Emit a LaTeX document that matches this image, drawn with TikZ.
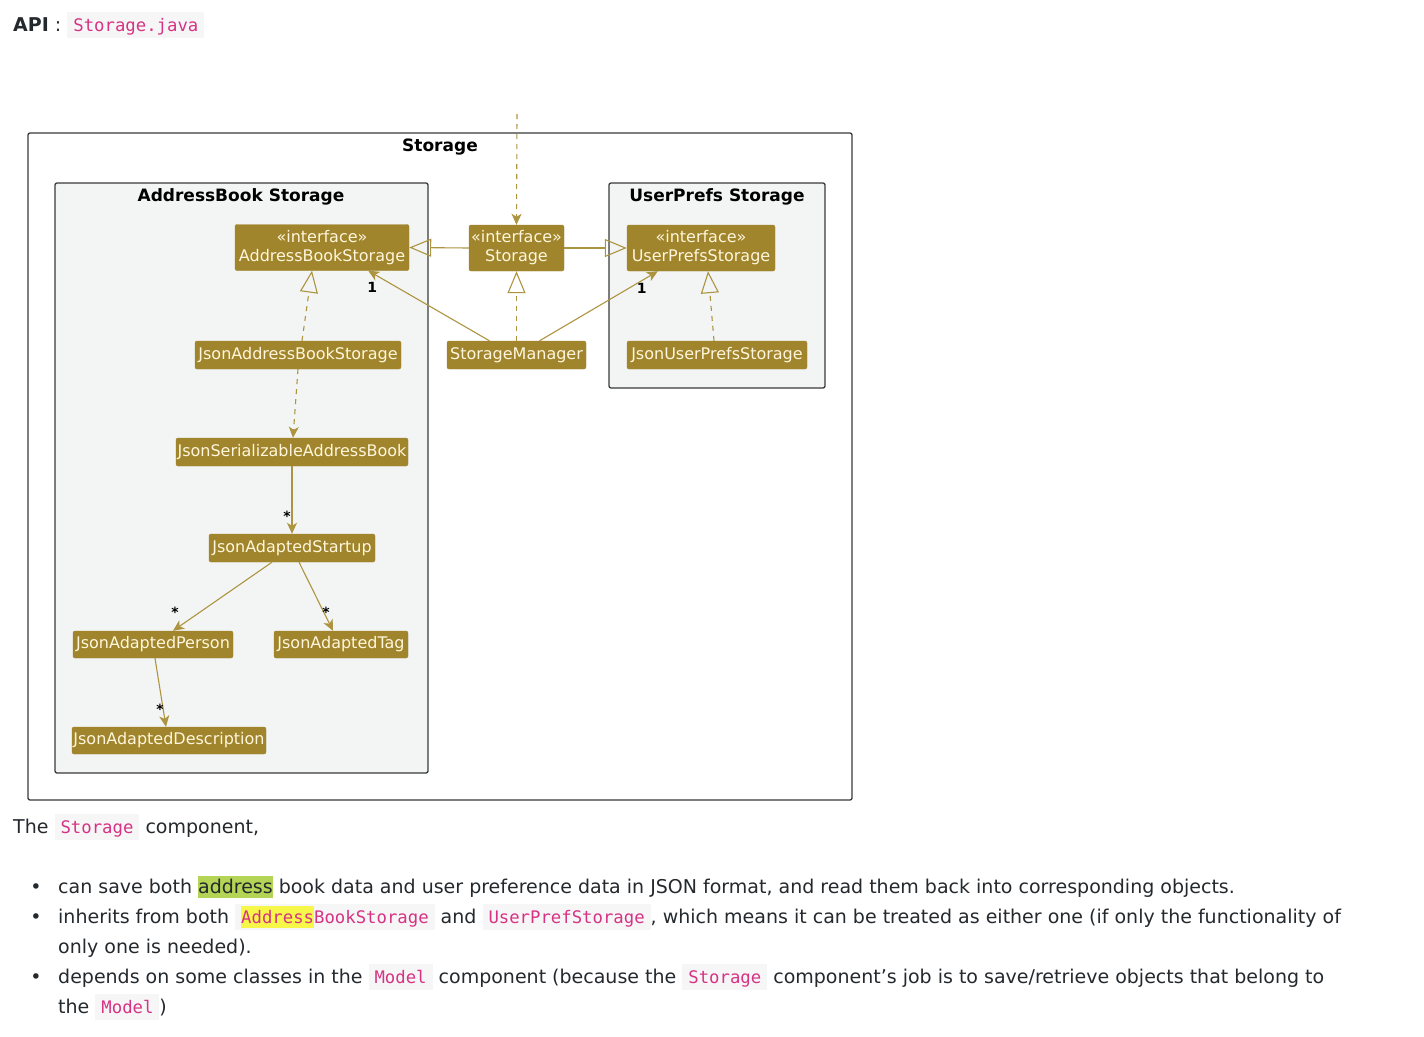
\documentclass[tikz,border=0pt]{standalone}
\usepackage{fontspec}
\setmainfont{DejaVu Sans}
\setmonofont{DejaVu Sans Mono}
\newfontfamily\umlfont{DejaVu Sans}
\usetikzlibrary{arrows.meta,positioning}

\definecolor{clsfill}{HTML}{A0852C}
\definecolor{clstext}{HTML}{FFF6DC}
\definecolor{linec}{HTML}{AD9440}
\definecolor{pkgline}{HTML}{3A3A3A}
\definecolor{pkgfill}{HTML}{F3F4F4}
\definecolor{bodyc}{HTML}{24292E}
\definecolor{codefg}{HTML}{D63384}
\definecolor{codebg}{HTML}{F6F6F7}
\definecolor{hlgreen}{HTML}{B4D455}
\definecolor{hlyellow}{HTML}{F7F74A}

% inline code and highlights
\newcommand{\code}[1]{\begingroup\setlength{\fboxsep}{0pt}\colorbox{codebg}{\rule[-7pt]{0pt}{26pt}\hspace{6pt}{\ttfamily\fontsize{17.3}{20}\selectfont\color{codefg}#1}\hspace{6pt}}\endgroup}
\newcommand{\hl}[2]{\begingroup\setlength{\fboxsep}{0pt}\colorbox{#1}{\rule[-5pt]{0pt}{22pt}#2}\endgroup}

\tikzset{
  pkg/.style={draw=pkgline, line width=1.3pt, rounded corners=2pt},
  pkgtitle/.style={font=\umlfont\bfseries\fontsize{17}{20}\selectfont, inner sep=0pt},
  cls/.style={fill=clsfill, draw=clsfill, rounded corners=2pt, text=clstext,
    font=\umlfont\fontsize{16}{19}\selectfont, inner sep=1pt, align=center},
  mult/.style={font=\umlfont\bfseries\fontsize{14}{14}\selectfont, inner sep=0pt, text=black},
  assoc/.style={draw=linec, line width=1.1pt, -{Stealth[length=11pt,width=10pt,inset=3pt]}},
  dependency/.style={assoc, dash pattern=on 5pt off 5pt},
  generalize/.style={draw=linec, line width=1.1pt, -{Triangle[open,length=22pt,width=18pt]}},
  realize/.style={generalize, dash pattern=on 5pt off 5pt},
  txt/.style={font=\fontsize{19}{23}\selectfont, text=bodyc, inner sep=0pt, anchor=base west},
}

\begin{document}
\begin{tikzpicture}[x=1pt,y=-1pt]
\useasboundingbox[fill=white] (0,0) rectangle (1424,1036);

% header
\node[txt] (api) at (13,31) {\textbf{API} : \code{Storage.java}};

% packages
\draw[pkg, fill=white] (28,133) rectangle (852,800);
\node[pkgtitle] (tstorage) at (440,147) {Storage};
\draw[pkg, fill=pkgfill] (55,183) rectangle (428,773);
\node[pkgtitle] (tab) at (241,197) {AddressBook Storage};
\draw[pkg, fill=pkgfill] (609,183) rectangle (825,388);
\node[pkgtitle] (tup) at (717,197) {UserPrefs Storage};

% classes
\node[cls, minimum width=174pt, minimum height=46pt] (abs) at (322,247.5) {«interface»\\AddressBookStorage};
\node[cls, minimum width=95pt, minimum height=46pt] (st) at (516.5,248) {«interface»\\Storage};
\node[cls, minimum width=148pt, minimum height=46pt] (ups) at (701,248) {«interface»\\UserPrefsStorage};
\node[cls, minimum width=206pt, minimum height=28pt] (jabs) at (298,355) {JsonAddressBookStorage};
\node[cls, minimum width=139pt, minimum height=28pt] (sm) at (516.5,355) {StorageManager};
\node[cls, minimum width=180pt, minimum height=28pt] (jups) at (717,355) {JsonUserPrefsStorage};
\node[cls, minimum width=232pt, minimum height=28pt] (jsab) at (292,452) {JsonSerializableAddressBook};
\node[cls, minimum width=166pt, minimum height=28pt] (jas) at (292,548) {JsonAdaptedStartup};
\node[cls, minimum width=160pt, minimum height=27pt] (jap) at (153,644.5) {JsonAdaptedPerson};
\node[cls, minimum width=134pt, minimum height=27pt] (jat) at (341,644.5) {JsonAdaptedTag};
\node[cls, minimum width=194pt, minimum height=27pt] (jad) at (169,740.5) {JsonAdaptedDescription};

% connectors
\coordinate (caller) at (517,114);
\draw[dependency] (caller) -- (st.north);
\draw[generalize] (st.west) -- (abs.east);
\draw[generalize] (st.east) -- (ups.west);
\draw[realize] (sm.north) -- (st.south);
\draw[assoc] ([xshift=-27pt]sm.north) -- ([xshift=-41pt]abs.south east)
  node[mult, at end, shift={(4,17)}] {1};
\draw[assoc] ([xshift=23pt]sm.north) -- ([xshift=31pt]ups.south west)
  node[mult, at end, shift={(-16,17)}] {1};
\draw[realize] ([xshift=4pt]jabs.north) -- ([xshift=-10pt]abs.south);
\draw[realize] ([xshift=-3pt]jups.north) -- ([xshift=7pt]ups.south);
\draw[dependency] (jabs.south) -- ([xshift=1pt]jsab.north);
\draw[assoc] (jsab.south) -- (jas.north)
  node[mult, at end, shift={(-5,-18)}] {*};
\draw[assoc] ([xshift=-20pt]jas.south) -- ([xshift=20pt]jap.north)
  node[mult, at end, shift={(2,-19)}] {*};
\draw[assoc] ([xshift=7pt]jas.south) -- ([xshift=-8pt]jat.north)
  node[mult, at end, shift={(-7,-19)}] {*};
\draw[assoc] ([xshift=2pt]jap.south) -- ([xshift=-3pt]jad.north)
  node[mult, at end, shift={(-6,-18)}] {*};

% text below
\node[txt] (intro) at (13,833) {The \code{Storage} component,};
\foreach \y in {893,923,983}
  \node[txt, anchor=base] at (36,\y) {•};
\node[txt] (l1) at (58,893) {can save both \hl{hlgreen}{address} book data and user preference data in JSON format, and read them back into corresponding objects.};
\node[txt] (l2) at (58,923) {inherits from both \code{\hl{hlyellow}{Address}BookStorage} and \code{UserPrefStorage}, which means it can be treated as either one (if only the functionality of};
\node[txt] (l3) at (58,953) {only one is needed).};
\node[txt] (l4) at (58,983) {depends on some classes in the \code{Model} component (because the \code{Storage} component's job is to save/retrieve objects that belong to};
\node[txt] (l5) at (58,1013) {the \code{Model})};
\end{tikzpicture}
\end{document}
